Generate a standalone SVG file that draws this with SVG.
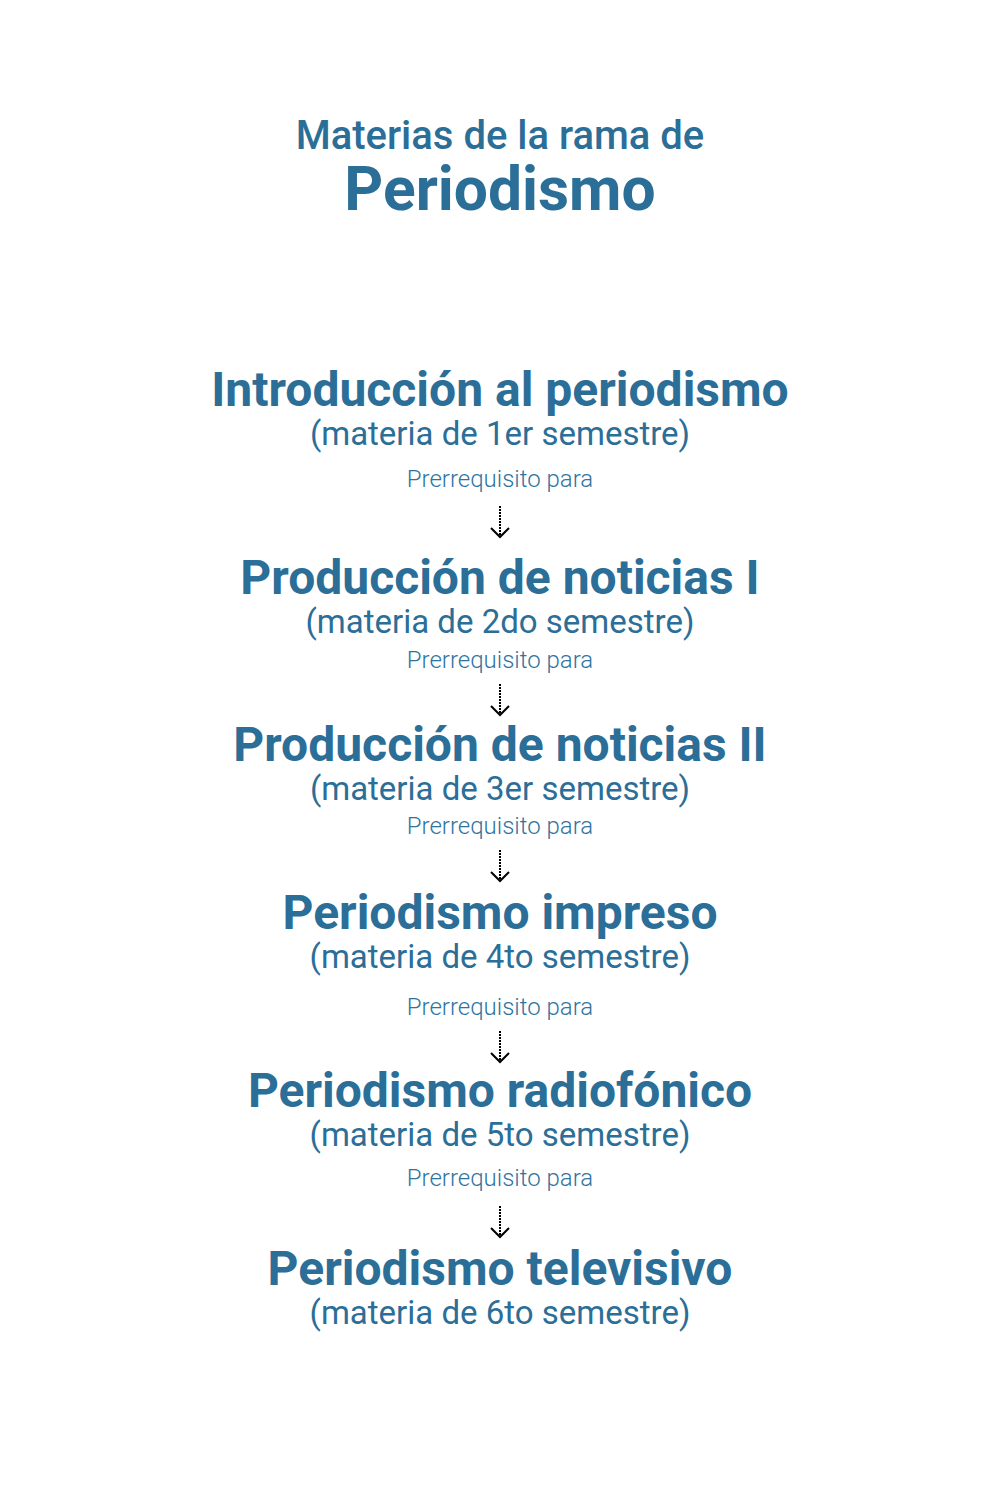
<svg xmlns="http://www.w3.org/2000/svg" width="1000" height="1500" viewBox="0 0 1000 1500">
<defs>
<style>
text{font-family:Roboto,"Liberation Sans",sans-serif;text-anchor:middle;fill:#2b6e97}
.h1{font-size:40px;font-weight:500}
.h2{font-size:60.5px;font-weight:700}
.t{font-size:48px;font-weight:700}
.s{font-size:33px;font-weight:400}
.p{font-size:24px;font-weight:300;fill:#2f74a0}
.arr{stroke:#000;stroke-width:2;fill:none}
.dl{stroke-dasharray:2 1}
</style>
</defs>
<rect width="1000" height="1500" fill="#fff"/>
<g id="title">
<text class="h1" x="500" y="149">Materias de la rama de</text>
<text class="h2" x="500" y="210">Periodismo</text>
</g>
<g id="n1"><text class="t" x="500" y="406">Introducción al periodismo</text><text class="s" x="500" y="445">(materia de 1er semestre)</text></g>
<g id="n2"><text class="t" x="500" y="594">Producción de noticias I</text><text class="s" x="500" y="633">(materia de 2do semestre)</text></g>
<g id="n3"><text class="t" x="500" y="761">Producción de noticias II</text><text class="s" x="500" y="800">(materia de 3er semestre)</text></g>
<g id="n4"><text class="t" x="500" y="929">Periodismo impreso</text><text class="s" x="500" y="968">(materia de 4to semestre)</text></g>
<g id="n5"><text class="t" x="500" y="1107">Periodismo radiofónico</text><text class="s" x="500" y="1146">(materia de 5to semestre)</text></g>
<g id="n6"><text class="t" x="500" y="1285">Periodismo televisivo</text><text class="s" x="500" y="1324">(materia de 6to semestre)</text></g>
<g id="connectors">
<text class="p" x="500" y="487">Prerrequisito para</text>
<path class="arr dl" d="M500 506V536"/><path class="arr" d="M491 528L500 537L509 528"/>
<text class="p" x="500" y="668">Prerrequisito para</text>
<path class="arr dl" d="M500 684V714"/><path class="arr" d="M491 706L500 715L509 706"/>
<text class="p" x="500" y="834">Prerrequisito para</text>
<path class="arr dl" d="M500 850V880"/><path class="arr" d="M491 872L500 881L509 872"/>
<text class="p" x="500" y="1015">Prerrequisito para</text>
<path class="arr dl" d="M500 1031V1061"/><path class="arr" d="M491 1053L500 1062L509 1053"/>
<text class="p" x="500" y="1186">Prerrequisito para</text>
<path class="arr dl" d="M500 1206V1236"/><path class="arr" d="M491 1228L500 1237L509 1228"/>
</g>
</svg>
